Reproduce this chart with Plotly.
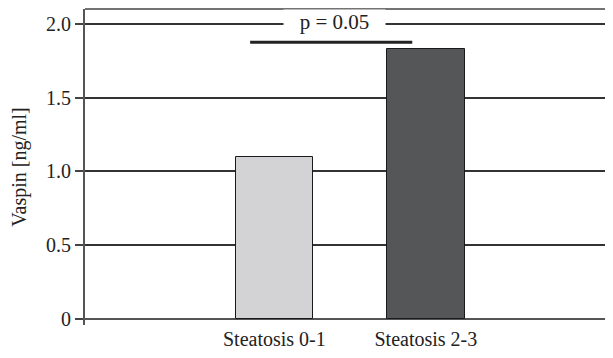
import plotly.graph_objects as go

categories = ["Steatosis 0-1", "Steatosis 2-3"]
values = [1.10, 1.83]
bar_colors = ["#d3d3d5", "#555658"]
y_ticks = [0, 0.5, 1.0, 1.5, 2.0]
y_tick_labels = ["0", "0.5", "1.0", "1.5", "2.0"]
sig_label = "p = 0.05"
sig_y = 1.875
sig_x = [-0.16, 0.91]

FONT = "Liberation Serif"
FS = 20

fig = go.Figure()
fig.add_trace(go.Bar(
    x=[0, 1], y=values, width=0.51,
    marker=dict(color=bar_colors, line=dict(color="#1a1a1a", width=1)),
    showlegend=False, hoverinfo="skip",
))
# significance bar
fig.add_trace(go.Scatter(
    x=sig_x, y=[sig_y, sig_y], mode="lines",
    line=dict(color="#222222", width=3), showlegend=False, hoverinfo="skip",
))

fig.add_annotation(
    x=0.395, y=2.0, xref="x", yref="y",
    text="\u00a0\u00a0\u00a0" + sig_label + "\u00a0\u00a0\u00a0",
    showarrow=False, bgcolor="white", borderpad=0,
    font=dict(family=FONT, size=21, color="#222222"),
    yshift=2,
)

# top frame line
fig.add_shape(type="line", xref="paper", yref="paper", x0=0, x1=1, y0=1, y1=1,
              line=dict(color="#444444", width=1.5))

fig.update_layout(
    width=605, height=350,
    margin=dict(l=77, r=0, t=1, b=33),
    paper_bgcolor="white", plot_bgcolor="white",
    font=dict(family=FONT, size=FS, color="#222222"),
    bargap=0,
    xaxis=dict(
        range=[-1.25, 2.235], tickmode="array", tickvals=[0, 1], ticktext=categories,
        showgrid=False, zeroline=False, showline=False, ticks="",
        tickfont=dict(family=FONT, size=FS, color="#222222"),
    ),
    yaxis=dict(
        range=[-0.04, 2.1], tickmode="array", tickvals=y_ticks, ticktext=y_tick_labels,
        showgrid=True, gridcolor="#333333", gridwidth=1.5,
        zeroline=True, zerolinecolor="#555555", zerolinewidth=2,
        showline=True, linecolor="#555555", linewidth=2,
        ticks="outside", ticklen=8, tickcolor="#444444", tickwidth=1.5,
        tickfont=dict(family=FONT, size=FS, color="#222222"),
        title=dict(text="Vaspin [ng/ml]", font=dict(family=FONT, size=FS, color="#222222"), standoff=14),
    ),
)

fig.write_html("out.html")
